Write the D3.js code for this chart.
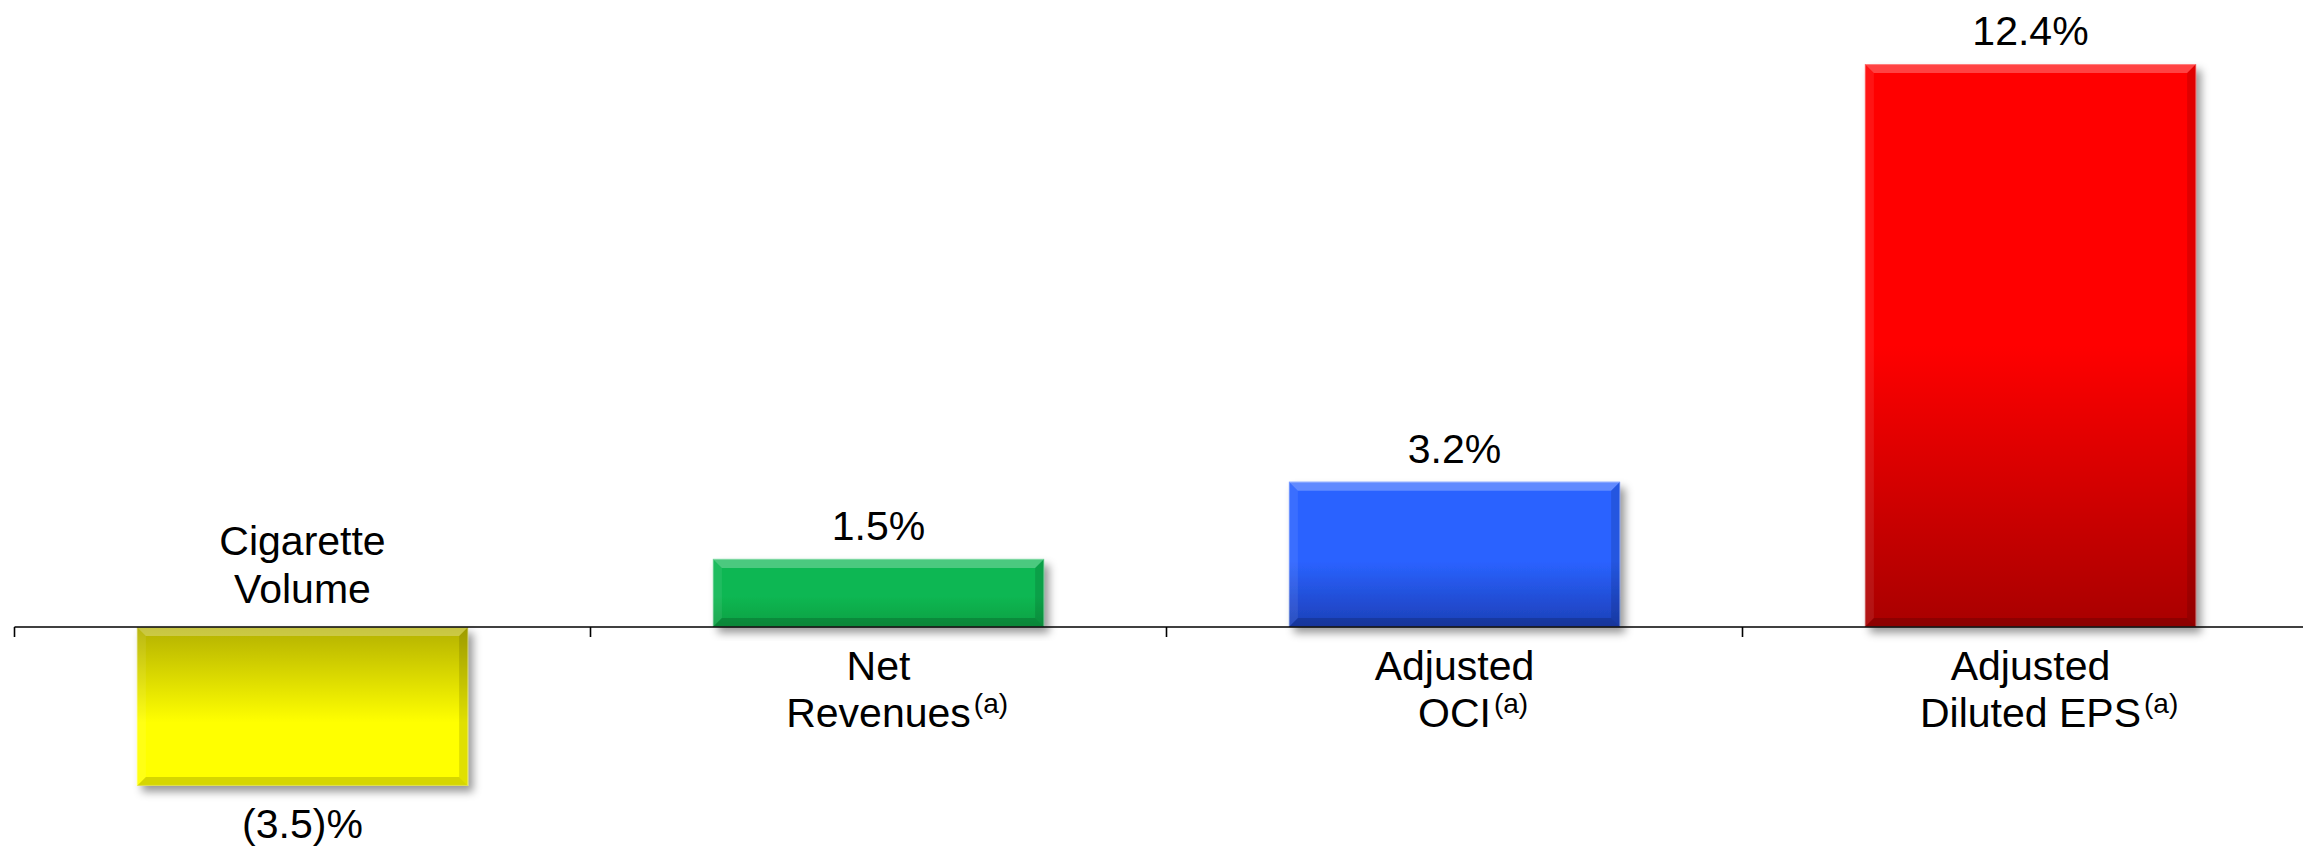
<!DOCTYPE html>
<html>
<head>
<meta charset="utf-8">
<script src="https://cdn.jsdelivr.net/npm/d3@7"></script>
<style>
  html, body { margin: 0; padding: 0; background: #ffffff; }
  svg { display: block; }
  text { font-family: "Liberation Sans", Arial, Helvetica, sans-serif; fill: #000; }
</style>
</head>
<body>
<svg id="chart" width="2303" height="847"></svg>
<script>
// Year-over-year growth by metric
const categories = ["Cigarette Volume", "Net Revenues", "Adjusted OCI", "Adjusted Diluted EPS"];
const labelLines = [["Cigarette", "Volume"], ["Net", "Revenues"], ["Adjusted", "OCI"], ["Adjusted", "Diluted EPS"]];
const footnoteMarks = ["", "(a)", "(a)", "(a)"];
const values = [-3.5, 1.5, 3.2, 12.4];

// Bar colours: bright far end, darker toward the axis
const lightColors = ["#ffff06", "#0bb752", "#2a62ff", "#ff0606"];
const darkColors  = ["#b3b000", "#07a043", "#1c40b8", "#a80505"];

const W = 2303, H = 847;
const svg = d3.select("#chart");

const x = d3.scaleBand()
  .domain(categories)
  .range([14.5, 2318.5])
  .paddingInner(0.425)
  .paddingOuter(0.2125);

const y = d3.scaleLinear()
  .domain([-4, 13])
  .range([627 + 4 * 45.4, 627 - 13 * 45.4]);

const fmtNum = d3.format(".1f");
const fmtValue = v => v < 0 ? `(${fmtNum(-v)})%` : `${fmtNum(v)}%`;

const data = categories.map((c, i) => ({
  cat: c, value: values[i], lines: labelLines[i], mark: footnoteMarks[i],
  light: lightColors[i], dark: darkColors[i], i
}));

const defs = svg.append("defs");

// soft drop shadow under each bar
const shadow = defs.append("filter")
  .attr("id", "barShadow")
  .attr("x", "-10%").attr("y", "-10%")
  .attr("width", "130%").attr("height", "130%");
shadow.append("feDropShadow")
  .attr("dx", 5).attr("dy", 6)
  .attr("stdDeviation", 4.5)
  .attr("flood-color", "#000")
  .attr("flood-opacity", 0.4);

// vertical gradients: dark at the axis end, light at the far end
data.forEach(d => {
  const g = defs.append("linearGradient")
    .attr("id", "grad" + d.i)
    .attr("x1", 0).attr("x2", 0)
    .attr("y1", d.value >= 0 ? 1 : 0)
    .attr("y2", d.value >= 0 ? 0 : 1);
  g.append("stop").attr("offset", 0).attr("stop-color", d.dark);
  g.append("stop").attr("offset", d.value >= 0 ? (d.value > 6 ? 0.5 : 0.45) : 0.6).attr("stop-color", d.light);
  g.append("stop").attr("offset", 1).attr("stop-color", d.light);
});

const zeroY = y(0);
const bw = x.bandwidth();
const bevel = 9;

const bars = svg.append("g").attr("class", "bars")
  .selectAll("g").data(data).join("g");

bars.each(function(d) {
  const g = d3.select(this);
  const x0 = x(d.cat), x1 = x0 + bw;
  const yTop = y(Math.max(0, d.value)), yBot = y(Math.min(0, d.value));
  const h = yBot - yTop;

  g.append("rect")
    .attr("x", x0).attr("y", yTop)
    .attr("width", bw).attr("height", h)
    .attr("fill", `url(#grad${d.i})`)
    .attr("filter", "url(#barShadow)");

  // bevelled edges
  const b = Math.min(bevel, h / 2);
  const faces = [
    { pts: [[x0, yTop], [x1, yTop], [x1 - b, yTop + b], [x0 + b, yTop + b]], fill: "#fff", op: 0.26 },
    { pts: [[x0, yTop], [x0 + b, yTop + b], [x0 + b, yBot - b], [x0, yBot]], fill: "#fff", op: 0.08 },
    { pts: [[x1, yTop], [x1, yBot], [x1 - b, yBot - b], [x1 - b, yTop + b]], fill: "#000", op: 0.12 },
    { pts: [[x0, yBot], [x0 + b, yBot - b], [x1 - b, yBot - b], [x1, yBot]], fill: "#000", op: 0.16 }
  ];
  faces.forEach(f => {
    g.append("polygon")
      .attr("points", f.pts.map(p => p.join(",")).join(" "))
      .attr("fill", f.fill)
      .attr("fill-opacity", f.op);
  });

  g.append("rect")
    .attr("x", x0 + 0.5).attr("y", yTop + 0.5)
    .attr("width", bw - 1).attr("height", h - 1)
    .attr("fill", "none")
    .attr("stroke", "#ffffff").attr("stroke-opacity", 0.3)
    .attr("stroke-width", 1);
});

// category axis: baseline with ticks at the band boundaries
const axisG = svg.append("g").attr("class", "x-axis");
const boundaries = categories.map(c => x(c) - x.step() * x.paddingInner() / 2);
axisG.append("line")
  .attr("x1", boundaries[0]).attr("x2", W)
  .attr("y1", zeroY).attr("y2", zeroY)
  .attr("stroke", "#000").attr("stroke-width", 1.6);
axisG.selectAll("line.tick").data(boundaries).join("line")
  .attr("class", "tick")
  .attr("x1", d => d).attr("x2", d => d)
  .attr("y1", zeroY).attr("y2", zeroY + 10)
  .attr("stroke", "#000").attr("stroke-width", 1.6);

// value labels
svg.append("g").attr("class", "values")
  .selectAll("text").data(data).join("text")
  .attr("x", d => x(d.cat) + bw / 2)
  .attr("y", d => d.value >= 0 ? y(d.value) - 19 : y(d.value) + 52)
  .attr("text-anchor", "middle")
  .attr("font-size", 41)
  .text(d => fmtValue(d.value));

// category labels, on the opposite side of the axis from the bar
const labels = svg.append("g").attr("class", "cat-labels")
  .selectAll("g").data(data).join("g");

labels.each(function(d) {
  const g = d3.select(this);
  const cx = x(d.cat) + bw / 2;
  const baselines = d.value >= 0 ? [zeroY + 53, zeroY + 100] : [zeroY - 72, zeroY - 24];
  d.lines.forEach((line, k) => {
    const t = g.append("text")
      .attr("x", cx).attr("y", baselines[k])
      .attr("text-anchor", "middle")
      .attr("font-size", 41)
      .text(line);
    if (k === d.lines.length - 1 && d.mark) {
      const w = t.node().getComputedTextLength();
      g.append("text")
        .attr("x", cx + w / 2 + 3)
        .attr("y", baselines[k] - 14)
        .attr("font-size", 28)
        .text(d.mark);
    }
  });
});
</script>
</body>
</html>
